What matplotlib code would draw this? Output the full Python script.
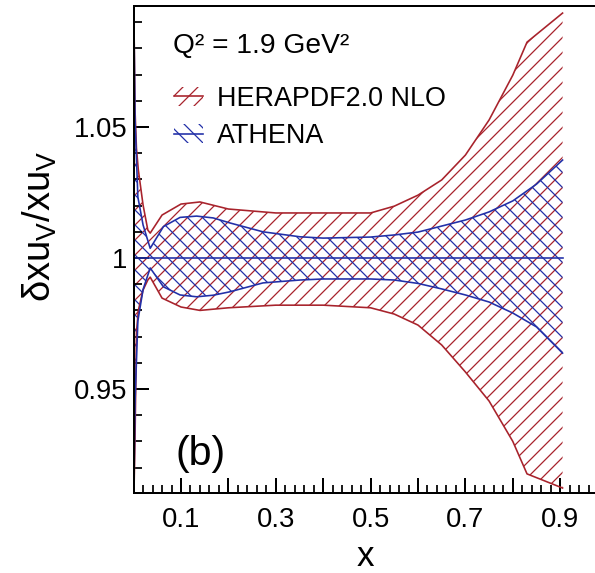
import numpy as np
import matplotlib
matplotlib.use('Agg')
import matplotlib.pyplot as plt
from matplotlib.ticker import MultipleLocator, FixedLocator, FuncFormatter
from matplotlib.patches import Patch
from matplotlib.lines import Line2D

plt.rcParams['font.family'] = ['Liberation Sans', 'DejaVu Sans']
plt.rcParams['mathtext.fontset'] = 'custom'
plt.rcParams['mathtext.rm'] = 'Liberation Sans'
plt.rcParams['mathtext.default'] = 'regular'
plt.rcParams['hatch.linewidth'] = 1.0

RED = '#a8232c'
BLUE = '#2230a8'

# 相对不确定度带 (Q^2 = 1.9 GeV^2)
x_hera = [0.0005, 0.003, 0.006, 0.01, 0.02, 0.03, 0.035, 0.06, 0.1, 0.14, 0.2,
          0.3, 0.4, 0.5, 0.55, 0.6, 0.65, 0.7, 0.75, 0.8, 0.83, 0.905]
hera_up = [1.095, 1.0565, 1.042, 1.0336, 1.0202, 1.0107, 1.0095, 1.0164, 1.0206,
           1.0214, 1.0187, 1.0172, 1.0172, 1.0172, 1.0198, 1.024, 1.0298,
           1.0393, 1.0527, 1.0698, 1.0824, 1.0935]
hera_lo = [0.908, 0.9305, 0.9714, 0.980, 0.9878, 0.9916, 0.9927, 0.9847, 0.9813,
           0.980, 0.981, 0.982, 0.982, 0.981, 0.9786, 0.9744, 0.9668, 0.9565,
           0.9454, 0.930, 0.9176, 0.9122]

x_athena = [0.0005, 0.003, 0.009, 0.02, 0.035, 0.063, 0.098, 0.133, 0.168, 0.203,
            0.273, 0.351, 0.4, 0.5, 0.55, 0.6, 0.65, 0.7, 0.75, 0.8, 0.85, 0.905]
athena_up = [1.095, 1.053, 1.0233, 1.0126, 1.0037, 1.012, 1.0155, 1.016, 1.0153,
             1.0134, 1.010, 1.0081, 1.0076, 1.008, 1.0088, 1.0099, 1.0122, 1.0145,
             1.0176, 1.0218, 1.0282, 1.0374]
athena_lo = [0.908, 0.945, 0.976, 0.988, 0.9962, 0.989, 0.9859, 0.9852, 0.9858,
             0.9871, 0.9905, 0.9916, 0.992, 0.992, 0.9916, 0.9903, 0.9882, 0.9859,
             0.9832, 0.979, 0.9737, 0.9637]

fig = plt.figure(figsize=(595 / 90, 573 / 90), dpi=90)
ax = fig.add_axes([133.6 / 595, 80 / 573, 474 / 595, 487 / 573])

# 误差带：HERAPDF 用 //，ATHENA 用 \\
ax.fill_between(x_hera, hera_lo, hera_up, facecolor='none', edgecolor=RED,
                hatch='//', linewidth=0)
ax.fill_between(x_athena, athena_lo, athena_up, facecolor='none', edgecolor=BLUE,
                hatch='\\\\', linewidth=0)
ax.plot(x_hera, hera_up, color=RED, lw=1.3)
ax.plot(x_hera, hera_lo, color=RED, lw=1.3)
ax.plot(x_athena, athena_up, color=BLUE, lw=1.3)
ax.plot(x_athena, athena_lo, color=BLUE, lw=1.3)
ax.plot([x_hera[0], x_hera[-1]], [1, 1], color=BLUE, lw=1.3)

ax.set_xlim(0, 1.0)
ax.set_ylim(0.9103, 1.0962)

ax.spines['right'].set_visible(False)
for s in ['left', 'bottom', 'top']:
    ax.spines[s].set_linewidth(1.6)

ax.xaxis.set_major_locator(FixedLocator(np.arange(0.1, 0.95, 0.1)))
ax.xaxis.set_minor_locator(MultipleLocator(0.02))
ax.xaxis.set_major_formatter(FuncFormatter(
    lambda v, p: f'{v:.1f}' if int(round(v * 10)) % 2 == 1 else ''))
ax.yaxis.set_major_locator(FixedLocator([0.95, 1.0, 1.05]))
ax.yaxis.set_major_formatter(FuncFormatter(
    lambda v, p: '1' if abs(v - 1) < 1e-6 else f'{v:.2f}'))
ax.yaxis.set_minor_locator(MultipleLocator(0.01))

ax.tick_params(which='both', direction='in', top=False, right=False,
               labelsize=22)
ax.tick_params(which='major', length=12, width=1.6)
ax.tick_params(which='minor', length=6.4, width=1.4)
ax.tick_params(axis='y', pad=5)
ax.tick_params(axis='x', pad=11)

fig.text(365 / 595, 1 - 566 / 573, 'x', fontsize=28, ha='center', va='baseline')
fig.text(40 / 595, 1 - 226 / 573, 'δxu$_V$/xu$_V$', fontsize=30.5,
         rotation=90, ha='center', va='center')

fig.text(173 / 595, 1 - 53 / 573, 'Q² = 1.9 GeV²', fontsize=22.5,
         ha='left', va='baseline')
fig.text(175 / 595, 1 - 465 / 573, '(b)', fontsize=33, ha='left', va='baseline')

handles = [
    (Patch(facecolor='none', edgecolor=RED, hatch='//', linewidth=0),
     Line2D([], [], color=RED, lw=1.3)),
    (Patch(facecolor='none', edgecolor=BLUE, hatch='\\\\', linewidth=0),
     Line2D([], [], color=BLUE, lw=1.3)),
]
ax.legend(handles, ['HERAPDF2.0 NLO', 'ATHENA'], loc='upper left',
          bbox_to_anchor=(0.062, 0.858), frameon=False, fontsize=21.5,
          handlelength=1.1, handletextpad=0.5, labelspacing=0.42,
          borderaxespad=0)

fig.savefig('out.png', dpi=90)
